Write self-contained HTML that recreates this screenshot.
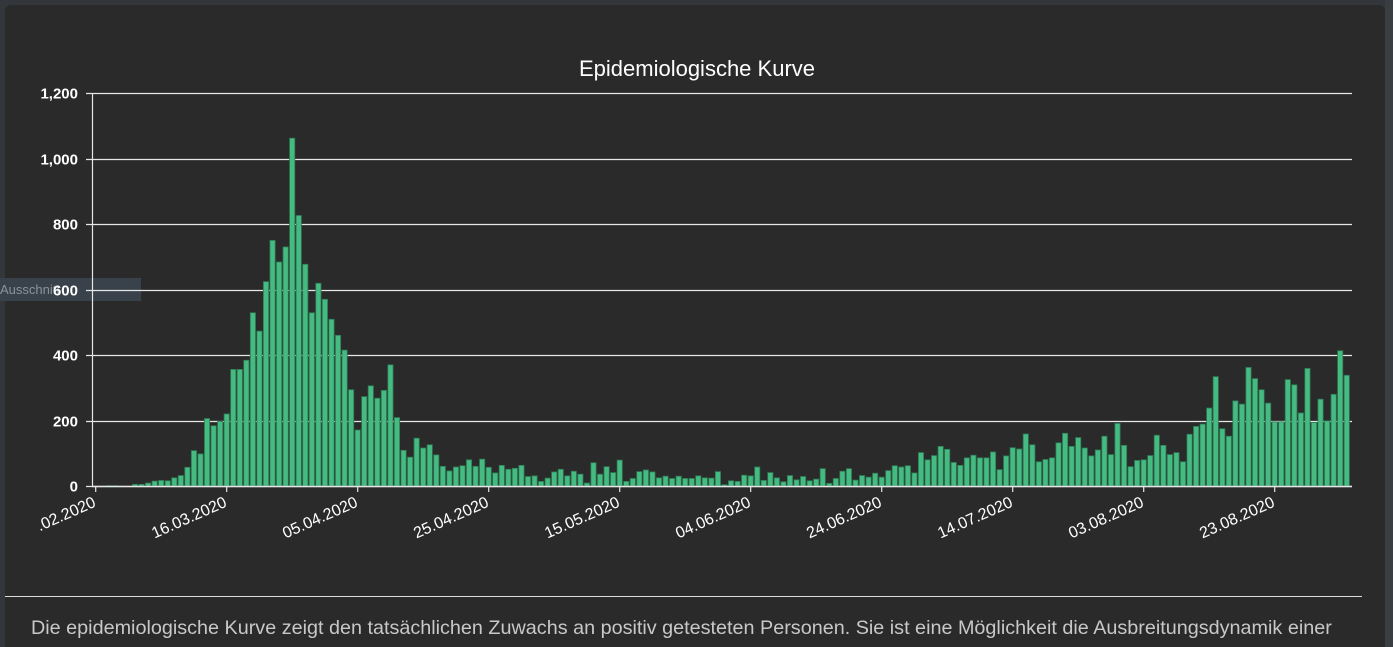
<!DOCTYPE html>
<html><head><meta charset="utf-8"><style>
html,body{margin:0;padding:0;background:#33363b;width:1393px;height:647px;overflow:hidden;font-family:"Liberation Sans",sans-serif}
#card{position:absolute;left:5px;top:5px;width:1380px;height:642px;background:#2a2a2a;border-radius:6px 6px 0 0}
#strip{position:absolute;left:1385px;top:0;width:8px;height:647px;background:#3a3d42}
#tip{position:absolute;left:0;top:278px;width:141px;height:23px;background:#39414a;color:#8a939c;font-size:13px;line-height:23px;overflow:hidden;white-space:nowrap}
#desc{position:absolute;left:31px;top:617px;color:#c8c8c8;font-size:19.8px;white-space:nowrap}
svg{position:absolute;left:0;top:0}
</style></head><body>
<div id="card"></div><div id="strip"></div>
<div id="tip">Ausschnitt</div>
<svg id="s" width="1393" height="647" xmlns="http://www.w3.org/2000/svg">
<text x="697" y="76" fill="#fff" font-size="22" text-anchor="middle" font-family="Liberation Sans, sans-serif">Epidemiologische Kurve</text>
<g id="grid"></g><g id="bars"></g><g id="ax"></g>
<line x1="5" y1="596.5" x2="1362" y2="596.5" stroke="#ddd" stroke-width="1"/>
</svg>
<div id="desc">Die epidemiologische Kurve zeigt den tatsächlichen Zuwachs an positiv getesteten Personen. Sie ist eine Möglichkeit die Ausbreitungsdynamik einer</div>
<script>
var d=[0,0,1,1,0,0,5,5,9,15,17,16,25,32,57,108,98,206,184,197,220,356,356,384,529,473,624,750,684,730,1062,826,677,529,619,570,509,460,415,294,171,273,306,268,292,370,209,109,88,146,116,126,95,60,46,58,62,80,60,82,57,40,63,51,54,63,29,31,14,24,43,51,31,45,36,9,71,36,59,41,79,14,23,44,49,43,25,30,23,30,23,23,31,25,24,44,4,16,14,
33,31,58,17,41,25,13,32,19,29,16,21,53,8,23,45,53,18,32,27,39,27,47,62,58,62,40,102,80,93,121,112,72,63,86,94,86,86,104,50,92,117,113,159,126,74,81,86,132,
161,121,148,116,92,110,152,96,191,124,59,78,80,
93,155,124,96,102,74,158,182,189,238,334,175,152,260,250,362,328,294,253,196,196,325,309,223,359,194,265,199,280,413,338];
var NS="http://www.w3.org/2000/svg";
function el(t,a,p,txt){var e=document.createElementNS(NS,t);for(var k in a)e.setAttribute(k,a[k]);if(txt!=null)e.textContent=txt;document.getElementById(p).appendChild(e);return e;}
var y0=486,k=393/1200,x0=95.7,st=6.55;
for(var v=0;v<=1200;v+=200){var y=Math.round(y0-v*k)+0.5;
 el("line",{x1:86,y1:y,x2:1352,y2:y,stroke:"#e6e6e6","stroke-width":1.2},"grid");
 el("text",{x:78,y:y+5,fill:"#fff","font-size":15,"font-weight":"bold","text-anchor":"end","font-family":"Liberation Sans, sans-serif"},"grid",v.toLocaleString("en-US"));}
for(var i=0;i<d.length;i++){var h=d[i]*k;if(h<=0)continue;var cx=x0+i*st;
 el("rect",{x:cx-2.6,y:y0-h,width:5.2,height:h,fill:"#45bb82",stroke:"#2f7a55","stroke-width":0.8},"bars");}
el("line",{x1:92.5,y1:93,x2:92.5,y2:487,stroke:"#e6e6e6","stroke-width":1.2},"ax");
el("line",{x1:92,y1:486.5,x2:1352,y2:486.5,stroke:"#e6e6e6","stroke-width":1.5},"ax");
var labs=[[0,".02.2020"],[20,"16.03.2020"],[40,"05.04.2020"],[60,"25.04.2020"],[80,"15.05.2020"],[100,"04.06.2020"],[120,"24.06.2020"],[140,"14.07.2020"],[160,"03.08.2020"],[180,"23.08.2020"]];
labs.forEach(function(l){var x=x0+l[0]*st;
 el("line",{x1:x,y1:486,x2:x,y2:492,stroke:"#e6e6e6","stroke-width":1.2},"ax");
 el("text",{x:0,y:0,fill:"#fff","font-size":16,"text-anchor":"end","font-family":"Liberation Sans, sans-serif",transform:"translate("+(x+1)+",506) rotate(-24)"},"ax",l[1]);});
</script>
</body></html>
